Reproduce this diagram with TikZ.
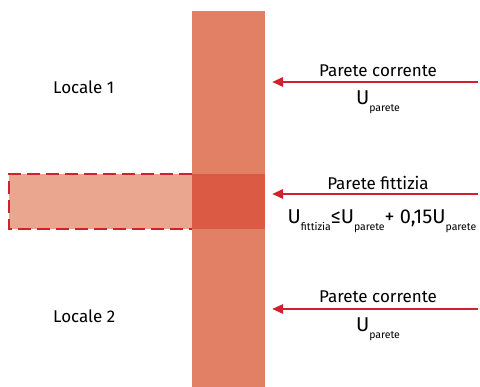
\documentclass[tikz,border=0pt]{standalone}
\usepackage{fontspec}
\setmainfont{Fira Sans}
\usetikzlibrary{arrows.meta}
\definecolor{wallc}{HTML}{E28066}
\definecolor{fictc}{HTML}{EAA68E}
\definecolor{overc}{HTML}{DB5A44}
\definecolor{linec}{HTML}{D0222E}
% subscript set low, as in U_parete
\newcommand{\sbs}[1]{\raisebox{-6.5pt}{\fontsize{10.5}{11}\selectfont #1}}
\tikzset{
  lbl/.style={font=\fontsize{17}{19}\selectfont, inner sep=0pt},
  ulbl/.style={font=\fontsize{20}{22}\selectfont, inner sep=0pt},
  flux/.style={draw=linec, line width=2.6pt, -{Triangle[length=11pt,width=9pt]}},
}
\begin{document}
\begin{tikzpicture}[x=1pt,y=-1pt]
\useasboundingbox (0,0) rectangle (480,387);
% fictitious wall strip and wall
\fill[fictc] (9,174) rectangle (192,229);
\fill[wallc] (192,11) rectangle (265,387);
\fill[overc] (192,174) rectangle (265,229);
\draw[linec, line width=2.6pt, dash pattern=on 13pt off 6pt] (192,174) -- (9,174) -- (9,229) -- (192,229);
% labels of the rooms
\node[lbl, anchor=base west] (l1) at (53,94) {Locale 1};
\node[lbl, anchor=base west] (l2) at (53,323) {Locale 2};
% arrows
\coordinate (a1s) at (478,82); \coordinate (a1e) at (272,82);
\coordinate (a2s) at (478,194); \coordinate (a2e) at (272,194);
\coordinate (a3s) at (478,309); \coordinate (a3e) at (272,309);
\draw[flux] (a1s) -- (a1e);
\draw[flux] (a2s) -- (a2e);
\draw[flux] (a3s) -- (a3e);
\node[lbl, anchor=base] (t1) at (378,77) {Parete corrente};
\node[ulbl, anchor=base] (u1) at (378,105) {U\sbs{parete}};
\node[lbl, anchor=base] (t2) at (378,190) {Parete fittizia};
\node[ulbl, anchor=base] (u2) at (382,224) {U\sbs{fittizia}≤U\sbs{parete}+ 0,15U\sbs{parete}};
\node[lbl, anchor=base] (t3) at (378,303) {Parete corrente};
\node[ulbl, anchor=base] (u3) at (378,332) {U\sbs{parete}};
\end{tikzpicture}
\end{document}
